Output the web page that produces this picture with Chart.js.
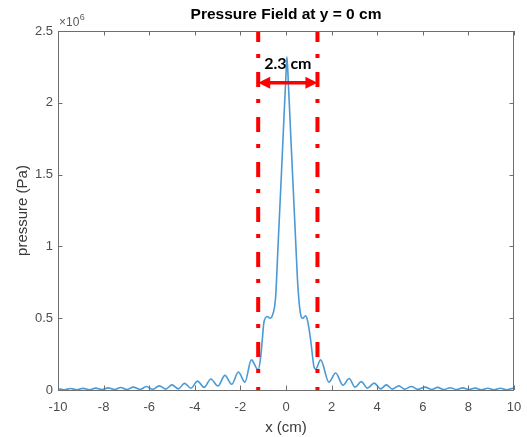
<!DOCTYPE html>
<html><head><meta charset="utf-8">
<script src="https://cdn.jsdelivr.net/npm/chart.js@4/dist/chart.umd.min.js"></script>
<style>html,body{margin:0;padding:0;background:#fff;}#wrap{width:527px;height:437px;position:relative;}</style>
</head><body><div id="wrap"><canvas id="c" width="527" height="437"></canvas></div>
<script>
// ---- data (pressure in units of 10^6 Pa) ----
const xPos = [-10.0,-9.72,-9.45,-9.18,-8.9,-8.62,-8.35,-8.08,-7.8,-7.52,-7.25,-6.98,-6.7,-6.4,-6.12,-5.85,-5.56,-5.28,-5.0,-4.72,-4.45,-4.17,-3.88,-3.59,-3.3,-2.98,-2.68,-2.38,-2.09,-1.8,-1.52,-1.22,-1.11,-1.04,-0.97,-0.82,-0.7,-0.62,-0.5,-0.45,-0.35,-0.2,-0.1,0.0,0.04,0.1,0.2,0.3,0.4,0.5,0.57,0.65,0.73,0.86,0.95,1.08,1.23,1.3,1.52,1.88,2.18,2.5,2.77,3.03,3.3,3.57,3.87,4.15,4.4,4.67,4.95,5.2,5.5,5.78,6.1,6.38,6.65,6.92,7.2,7.48,7.75,8.02,8.3,8.58,8.85,9.12,9.4,9.68,9.95,10.0];
const pressure = [0.009,0.002,0.010,0.002,0.011,0.002,0.013,0.003,0.015,0.003,0.017,0.003,0.020,0.004,0.024,0.005,0.029,0.006,0.036,0.008,0.046,0.012,0.062,0.018,0.077,0.028,0.102,0.040,0.125,0.055,0.21,0.14,0.23,0.35,0.47,0.512,0.50,0.51,0.58,0.66,1.0,1.51,1.86,2.2,2.32,2.15,1.8,1.46,1.12,0.78,0.62,0.52,0.50,0.517,0.48,0.35,0.16,0.145,0.21,0.055,0.118,0.033,0.08,0.02,0.058,0.013,0.048,0.008,0.036,0.006,0.029,0.006,0.024,0.005,0.02,0.004,0.018,0.003,0.016,0.003,0.015,0.003,0.013,0.002,0.012,0.002,0.012,0.002,0.011,0.01];
const markerX = [-1.22, 1.38];
const xTicks = [-10,-8,-6,-4,-2,0,2,4,6,8,10];
const yTicks = [0,0.5,1,1.5,2,2.5];
const arrowLevel = 2.14;
const labelLevel = 2.27;
const titleText = 'Pressure Field at y = 0 cm';
const widthLabel = '2.3 cm';
const xTitle = 'x (cm)';
const yTitle = 'pressure (Pa)';

const curve = xPos.map((x,i)=>({x:x, y:pressure[i]}));
const markerSets = markerX.map(mx=>({
  data:[{x:mx,y:2.5},{x:mx,y:0}],
  borderColor:'#ff0000', borderWidth:4, borderDash:[15,12,4,14], borderDashOffset:4,
  pointRadius:0, tension:0, fill:false, order:0
}));

const deco = {
  id:'deco',
  afterDraw(chart){
    const ctx = chart.ctx, xs = chart.scales.x, ys = chart.scales.y, a = chart.chartArea;
    ctx.save();
    ctx.strokeStyle = '#6e6e6e'; ctx.lineWidth = 1;
    ctx.strokeRect(Math.round(a.left)+0.5, Math.round(a.top)+0.5, Math.round(a.right-a.left)-1, Math.round(a.bottom-a.top));
    const tl = 4.5;
    ctx.beginPath();
    xTicks.forEach(v=>{ const p = Math.round(xs.getPixelForValue(v))+0.5;
      ctx.moveTo(p,a.bottom); ctx.lineTo(p,a.bottom-tl);
      ctx.moveTo(p,a.top); ctx.lineTo(p,a.top+tl); });
    yTicks.forEach(v=>{ const p = Math.round(ys.getPixelForValue(v))+0.5;
      ctx.moveTo(a.left,p); ctx.lineTo(a.left+tl,p);
      ctx.moveTo(a.right,p); ctx.lineTo(a.right-tl,p); });
    ctx.stroke();
    ctx.fillStyle = '#5a5a5a'; ctx.textBaseline = 'alphabetic'; ctx.textAlign = 'left';
    ctx.font = '12px "Liberation Sans", Arial, sans-serif';
    ctx.fillText('\u00d710', a.left+1, 26);
    const w = ctx.measureText('\u00d710').width;
    ctx.font = '9px "Liberation Sans", Arial, sans-serif';
    ctx.fillText('6', a.left+1+w+0.5, 20);
    ctx.fillStyle = '#000'; ctx.textAlign = 'center'; ctx.textBaseline = 'middle';
    ctx.font = 'bold 15.5px "Liberation Sans", Arial, sans-serif';
    ctx.fillText(titleText, (a.left+a.right)/2, 15);
    const x1 = xs.getPixelForValue(markerX[0]), x2 = xs.getPixelForValue(markerX[1]);
    const ay = ys.getPixelForValue(arrowLevel);
    ctx.strokeStyle = '#ff0000'; ctx.fillStyle = '#ff0000'; ctx.lineWidth = 3.5;
    ctx.beginPath(); ctx.moveTo(x1+8, ay); ctx.lineTo(x2-8, ay); ctx.stroke();
    ctx.beginPath(); ctx.moveTo(x1, ay); ctx.lineTo(x1+12, ay-6); ctx.lineTo(x1+12, ay+6); ctx.closePath(); ctx.fill();
    ctx.beginPath(); ctx.moveTo(x2, ay); ctx.lineTo(x2-12, ay-6); ctx.lineTo(x2-12, ay+6); ctx.closePath(); ctx.fill();
    ctx.fillStyle = '#000'; ctx.font = 'bold 16px Lato, "Open Sans", sans-serif';
    ctx.fillText(widthLabel, (x1+x2)/2, ys.getPixelForValue(labelLevel));
    ctx.restore();
  }
};

new Chart(document.getElementById('c'), {
  type:'line',
  data:{ datasets:[
    {data:curve, borderColor:'#4a9ad6', borderWidth:1.6, pointRadius:0, cubicInterpolationMode:'monotone', fill:false, order:1},
    ...markerSets
  ]},
  options:{
    responsive:false, animation:false, devicePixelRatio:1,
    layout:{padding:{top:31,right:13,left:0,bottom:0}},
    plugins:{legend:{display:false}, tooltip:{enabled:false}, title:{display:false}},
    scales:{
      x:{type:'linear', min:-10, max:10,
        afterBuildTicks:s=>{s.ticks = xTicks.map(v=>({value:v}));},
        afterFit:s=>{s.height = 47; s.paddingLeft = 0; s.paddingRight = 0;},
        grid:{display:false, drawTicks:false}, border:{display:false},
        ticks:{color:'#4d4d4d', padding:10, maxRotation:0, autoSkip:false, callback:v=>String(v), font:{family:'"Liberation Sans", Arial, sans-serif', size:13}},
        title:{display:true, text:xTitle, color:'#3a3a3a', padding:{top:3,bottom:0}, font:{family:'"Liberation Sans", Arial, sans-serif', size:15}}
      },
      y:{type:'linear', min:0, max:2.5,
        afterBuildTicks:s=>{s.ticks = yTicks.map(v=>({value:v}));},
        afterFit:s=>{s.width = 58; s.paddingTop = 0; s.paddingBottom = 0;},
        grid:{display:false, drawTicks:false}, border:{display:false},
        ticks:{color:'#4d4d4d', padding:5, callback:v=>String(v), font:{family:'"Liberation Sans", Arial, sans-serif', size:13}},
        title:{display:true, text:yTitle, color:'#3a3a3a', padding:{top:14,bottom:0}, font:{family:'"Liberation Sans", Arial, sans-serif', size:15}}
      }
    }
  },
  plugins:[deco]
});
</script></body></html>
